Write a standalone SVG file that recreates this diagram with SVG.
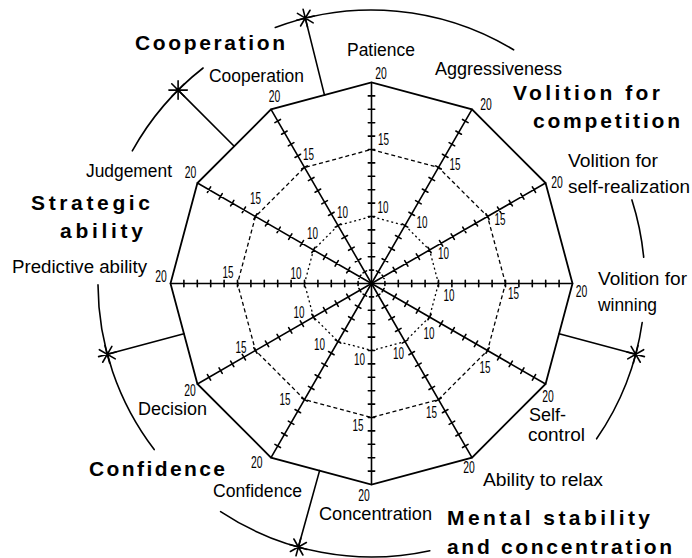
<svg xmlns="http://www.w3.org/2000/svg" xmlns:xlink="http://www.w3.org/1999/xlink" width="692" height="558" viewBox="0 0 692 558">
<style>
.ln{fill:none;stroke:#000;stroke-width:1.6;stroke-linecap:round;stroke-linejoin:round}
.poly{fill:none;stroke:#000;stroke-width:1.8;stroke-linejoin:miter}
.r15{fill:none;stroke:#000;stroke-width:1.3;stroke-dasharray:4 2.8}
.r10{fill:none;stroke:#000;stroke-width:1.3;stroke-dasharray:2 2.8}
.lab{font-family:"Liberation Sans",Arial,sans-serif;font-size:17.5px;fill:#000}
.grp{font-family:"Liberation Sans",Arial,sans-serif;font-size:21px;font-weight:bold;fill:#000}
.num{font-family:"Liberation Sans Narrow","Liberation Sans",Arial,sans-serif;font-size:16px;fill:#000;text-anchor:middle}
</style>
<defs>
<path id="ax" class="ln" d="M0,0H201M13.4,-2v4M26.8,-3.2v6.4M40.2,-3.2v6.4M53.6,-3.2v6.4M67,-3.2v6.4M80.4,-3.2v6.4M93.8,-3.2v6.4M107.2,-3.2v6.4M120.6,-3.2v6.4M134,-3.2v6.4M147.4,-3.2v6.4M160.8,-3.2v6.4M174.2,-3.2v6.4M187.6,-3.2v6.4"/>
<path id="star" class="ln" stroke-width="1.3" d="M-9,0H9M0,-9V9M-6.5,-6.5L6.5,6.5M-6.5,6.5L6.5,-6.5"/>
</defs>
<rect width="692" height="558" fill="#fff"/>

<g id="grid">
<polygon class="r10" points="438.5,283.5 429.52,250 405,225.48 371.5,216.5 338,225.48 313.48,250 304.5,283.5 313.48,317 338,341.52 371.5,350.5 405,341.52 429.52,317"/>
<polygon class="r15" points="505.5,283.5 487.54,216.5 438.5,167.46 371.5,149.5 304.5,167.46 255.46,216.5 237.5,283.5 255.46,350.5 304.5,399.54 371.5,417.5 438.5,399.54 487.54,350.5"/>
<polygon class="poly" points="572.5,283.5 545.57,183 472,109.43 371.5,82.5 271,109.43 197.43,183 170.5,283.5 197.43,384 271,457.57 371.5,484.5 472,457.57 545.57,384"/>
</g>

<g id="axes">
<use xlink:href="#ax" transform="translate(371.5,283.5) rotate(0)"/>
<use xlink:href="#ax" transform="translate(371.5,283.5) rotate(-30)"/>
<use xlink:href="#ax" transform="translate(371.5,283.5) rotate(-60)"/>
<use xlink:href="#ax" transform="translate(371.5,283.5) rotate(-90)"/>
<use xlink:href="#ax" transform="translate(371.5,283.5) rotate(-120)"/>
<use xlink:href="#ax" transform="translate(371.5,283.5) rotate(-150)"/>
<use xlink:href="#ax" transform="translate(371.5,283.5) rotate(-180)"/>
<use xlink:href="#ax" transform="translate(371.5,283.5) rotate(-210)"/>
<use xlink:href="#ax" transform="translate(371.5,283.5) rotate(-240)"/>
<use xlink:href="#ax" transform="translate(371.5,283.5) rotate(-270)"/>
<use xlink:href="#ax" transform="translate(371.5,283.5) rotate(-300)"/>
<use xlink:href="#ax" transform="translate(371.5,283.5) rotate(-330)"/>
</g>

<g id="connectors">
<path class="ln" d="M275.3,27.5A273.5,273.5 0 0 1 513.6,49.8"/>
<path class="ln" d="M203.1,68A273.5,273.5 0 0 0 132.3,150.9"/>
<path class="ln" d="M98,284.9A273.5,273.5 0 0 0 154.2,449.6"/>
<path class="ln" d="M220.6,511.6A273.5,273.5 0 0 0 429.8,550.7"/>
<path class="ln" d="M596.6,438.8A273.5,273.5 0 0 0 642.2,322.5"/>
<path class="ln" d="M643.7,257.3A273.5,273.5 0 0 0 631.9,199.9"/>
<path class="ln" d="M324.5,95.1L305.3,18.1"/>
<path class="ln" d="M234.2,146.2L178.1,90.1"/>
<path class="ln" d="M183.9,333.8L107.3,354.3"/>
<path class="ln" d="M319.6,470.6L298.4,547"/>
<path class="ln" d="M559.1,333.8L635.7,354.3"/>
<use xlink:href="#star" transform="translate(305.3,18.1) rotate(-104)"/>
<use xlink:href="#star" transform="translate(178.1,90.1) rotate(-135)"/>
<use xlink:href="#star" transform="translate(107.3,354.3) rotate(-195)"/>
<use xlink:href="#star" transform="translate(298.4,547) rotate(-254.5)"/>
<use xlink:href="#star" transform="translate(635.7,354.3) rotate(-345)"/>
</g>

<g id="scale-labels">
<text class="num" x="381" y="79" textLength="11.5" lengthAdjust="spacingAndGlyphs">20</text>
<text class="num" x="486" y="110" textLength="11.5" lengthAdjust="spacingAndGlyphs">20</text>
<text class="num" x="557" y="188" textLength="11.5" lengthAdjust="spacingAndGlyphs">20</text>
<text class="num" x="581.5" y="297" textLength="11.5" lengthAdjust="spacingAndGlyphs">20</text>
<text class="num" x="548" y="402" textLength="11.5" lengthAdjust="spacingAndGlyphs">20</text>
<text class="num" x="469" y="473" textLength="11.5" lengthAdjust="spacingAndGlyphs">20</text>
<text class="num" x="364" y="501" textLength="11.5" lengthAdjust="spacingAndGlyphs">20</text>
<text class="num" x="256.7" y="468" textLength="11.5" lengthAdjust="spacingAndGlyphs">20</text>
<text class="num" x="190" y="396" textLength="11.5" lengthAdjust="spacingAndGlyphs">20</text>
<text class="num" x="161" y="282" textLength="11.5" lengthAdjust="spacingAndGlyphs">20</text>
<text class="num" x="190.5" y="178" textLength="11.5" lengthAdjust="spacingAndGlyphs">20</text>
<text class="num" x="274.5" y="102" textLength="11.5" lengthAdjust="spacingAndGlyphs">20</text>

<text class="num" x="383.5" y="145" textLength="11" lengthAdjust="spacingAndGlyphs">15</text>
<text class="num" x="455" y="170" textLength="11" lengthAdjust="spacingAndGlyphs">15</text>
<text class="num" x="500" y="225" textLength="11" lengthAdjust="spacingAndGlyphs">15</text>
<text class="num" x="513.5" y="299" textLength="11" lengthAdjust="spacingAndGlyphs">15</text>
<text class="num" x="485" y="373" textLength="11" lengthAdjust="spacingAndGlyphs">15</text>
<text class="num" x="431.5" y="418" textLength="11" lengthAdjust="spacingAndGlyphs">15</text>
<text class="num" x="358" y="431" textLength="11" lengthAdjust="spacingAndGlyphs">15</text>
<text class="num" x="285" y="405" textLength="11" lengthAdjust="spacingAndGlyphs">15</text>
<text class="num" x="241" y="352.5" textLength="11" lengthAdjust="spacingAndGlyphs">15</text>
<text class="num" x="228" y="277.5" textLength="11" lengthAdjust="spacingAndGlyphs">15</text>
<text class="num" x="255.5" y="203.5" textLength="11" lengthAdjust="spacingAndGlyphs">15</text>
<text class="num" x="308.5" y="160" textLength="11" lengthAdjust="spacingAndGlyphs">15</text>

<text class="num" x="383" y="212.5" textLength="11" lengthAdjust="spacingAndGlyphs">10</text>
<text class="num" x="422" y="227.5" textLength="11" lengthAdjust="spacingAndGlyphs">10</text>
<text class="num" x="443.5" y="258.5" textLength="11" lengthAdjust="spacingAndGlyphs">10</text>
<text class="num" x="449" y="300.5" textLength="11" lengthAdjust="spacingAndGlyphs">10</text>
<text class="num" x="429" y="338.5" textLength="11" lengthAdjust="spacingAndGlyphs">10</text>
<text class="num" x="398.5" y="358.5" textLength="11" lengthAdjust="spacingAndGlyphs">10</text>
<text class="num" x="359.5" y="364.5" textLength="11" lengthAdjust="spacingAndGlyphs">10</text>
<text class="num" x="319.5" y="349.5" textLength="11" lengthAdjust="spacingAndGlyphs">10</text>
<text class="num" x="299" y="318" textLength="11" lengthAdjust="spacingAndGlyphs">10</text>
<text class="num" x="296" y="278.5" textLength="11" lengthAdjust="spacingAndGlyphs">10</text>
<text class="num" x="312.5" y="238.5" textLength="11" lengthAdjust="spacingAndGlyphs">10</text>
<text class="num" x="342.5" y="217.5" textLength="11" lengthAdjust="spacingAndGlyphs">10</text>
</g>

<g id="node-patience"><text class="lab" x="347" y="56" textLength="68" lengthAdjust="spacingAndGlyphs">Patience</text></g>
<g id="node-aggressiveness"><text class="lab" x="435" y="75" textLength="127" lengthAdjust="spacingAndGlyphs">Aggressiveness</text></g>
<g id="node-self-realization"><text class="lab" x="568" y="167" textLength="90" lengthAdjust="spacingAndGlyphs">Volition for</text><text class="lab" x="568" y="193" textLength="122" lengthAdjust="spacingAndGlyphs">self-realization</text></g>
<g id="node-winning"><text class="lab" x="598" y="285" textLength="89" lengthAdjust="spacingAndGlyphs">Volition for</text><text class="lab" x="598" y="311" textLength="59" lengthAdjust="spacingAndGlyphs">winning</text></g>
<g id="node-self-control"><text class="lab" x="529" y="421" textLength="37" lengthAdjust="spacingAndGlyphs">Self-</text><text class="lab" x="528" y="441" textLength="57" lengthAdjust="spacingAndGlyphs">control</text></g>
<g id="node-relax"><text class="lab" x="483" y="486" textLength="120" lengthAdjust="spacingAndGlyphs">Ability to relax</text></g>
<g id="node-concentration"><text class="lab" x="319" y="520" textLength="113" lengthAdjust="spacingAndGlyphs">Concentration</text></g>
<g id="node-confidence"><text class="lab" x="213" y="497" textLength="89" lengthAdjust="spacingAndGlyphs">Confidence</text></g>
<g id="node-decision"><text class="lab" x="138" y="415" textLength="69" lengthAdjust="spacingAndGlyphs">Decision</text></g>
<g id="node-predictive"><text class="lab" x="12" y="273" textLength="135" lengthAdjust="spacingAndGlyphs">Predictive ability</text></g>
<g id="node-judgement"><text class="lab" x="86" y="177" textLength="86" lengthAdjust="spacingAndGlyphs">Judgement</text></g>
<g id="node-cooperation"><text class="lab" x="209" y="82" textLength="95" lengthAdjust="spacingAndGlyphs">Cooperation</text></g>

<g id="group-cooperation"><text class="grp" x="135" y="50" textLength="150" lengthAdjust="spacing">Cooperation</text></g>
<g id="group-volition"><text class="grp" x="513" y="100" textLength="147" lengthAdjust="spacing">Volition for</text><text class="grp" x="533" y="128" textLength="147" lengthAdjust="spacing">competition</text></g>
<g id="group-strategic"><text class="grp" x="31" y="210" textLength="119" lengthAdjust="spacing">Strategic</text><text class="grp" x="60" y="238" textLength="83" lengthAdjust="spacing">ability</text></g>
<g id="group-confidence"><text class="grp" x="89" y="476" textLength="136" lengthAdjust="spacing">Confidence</text></g>
<g id="group-mental"><text class="grp" x="447" y="525" textLength="203" lengthAdjust="spacing">Mental stability</text><text class="grp" x="447" y="554" textLength="225" lengthAdjust="spacing">and concentration</text></g>
</svg>
